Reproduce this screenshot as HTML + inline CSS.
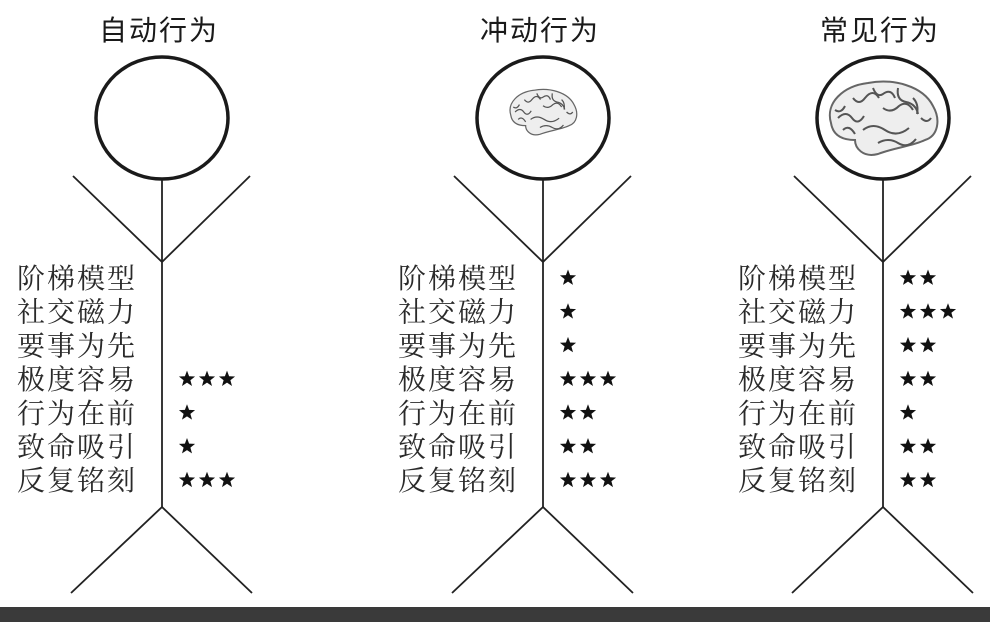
<!DOCTYPE html>
<html><head><meta charset="utf-8">
<style>
html,body{margin:0;padding:0;background:#fff;}
svg{display:block;}
.title{font-family:"Liberation Sans","Noto Sans CJK SC",sans-serif;font-size:28px;fill:#1a1a1a;letter-spacing:2px;}
.lab{font-family:"Liberation Serif","Noto Serif CJK SC","WenQuanYi Zen Hei",serif;font-size:28px;fill:#2a2a2a;letter-spacing:2px;}
</style></head><body>
<svg id="chart" width="990" height="622" viewBox="0 0 990 622" xmlns="http://www.w3.org/2000/svg">
<rect x="0" y="607" width="990" height="15" fill="#3a3a3a"/>
<g id="figs"></g>
</svg>
<script>
const figureTitles = ["自动行为","冲动行为","常见行为"];
const rowLabels = ["阶梯模型","社交磁力","要事为先","极度容易","行为在前","致命吸引","反复铭刻"];
const starsAuto = [0,0,0,3,1,1,3];
const starsImpulse = [1,1,1,3,2,2,3];
const starsCommon = [2,3,2,2,1,2,2];
const brainLevel = [0,1,2];
const series = [starsAuto, starsImpulse, starsCommon];
const centers = [162,543,883];
const NS = "http://www.w3.org/2000/svg";
const g = document.getElementById('figs');
function mk(tag, attrs, parent){const e=document.createElementNS(NS,tag);for(const k in attrs)e.setAttribute(k,attrs[k]);(parent||g).appendChild(e);return e;}
function rowY(i){return 278 + i*33.7;}
function starX(cx,j){return cx + 25 + j*20;}
function starPath(x,y,r){let d="";for(let k=0;k<10;k++){const a=-Math.PI/2+k*Math.PI/5;const rr=k%2?r*0.42:r;d+=(k?"L":"M")+(x+rr*Math.cos(a)).toFixed(2)+","+(y+rr*Math.sin(a)).toFixed(2);}return d+"Z";}
series.forEach((vals,f)=>{
  const cx=centers[f];
  const fg=mk('g',{});
  
  
  const t=mk('text',{x:cx-3,y:40,'text-anchor':'middle',class:'title'},fg);
  t.textContent=figureTitles[f];
  
  
  const head=mk('ellipse',{cx:cx,cy:118,rx:66,ry:61,fill:'none',stroke:'#1a1a1a','stroke-width':3.5},fg);
  
  
  if(brainLevel[f]>0){
    const s=brainLevel[f]===1?0.62:1;
    const bg=mk('g',{transform:`translate(${cx},${brainLevel[f]===1?112:118}) scale(${s})`},fg);
    
    
    mk('path',{d:"M-52,5 C-58,-15 -40,-32 -15,-35 C10,-40 40,-32 50,-12 C58,2 55,18 42,22 C30,28 10,30 -5,36 C-20,40 -28,30 -28,22 C-40,22 -50,18 -52,5Z",fill:'#eeeeee',stroke:'#666','stroke-width':2},bg);
    const sq=["M-45,0 q8,-8 14,0 q6,8 12,-2","M-30,-20 q6,8 12,0 q8,-10 14,0","M-10,-30 q4,10 10,6 q8,-6 12,4","M15,-30 q-2,12 8,14 q10,2 12,12","M-20,12 q10,-8 22,0 q12,8 24,-2","M-5,25 q10,-6 20,0 q10,6 18,-4","M30,-20 q6,6 4,16","M-40,12 q6,-6 12,4","M0,-10 q8,6 16,-2 q8,-6 14,4","M-48,-8 q6,4 10,-4","M38,0 q6,6 10,0"];
    sq.forEach(d=>mk('path',{d:d,fill:'none',stroke:'#555','stroke-width':2},bg));
  }
  const lines=[[cx,180,cx,507],[cx-89,176,cx,262],[cx+88,176,cx,262],[cx,507,cx-91,593],[cx,507,cx+90,593]];
  lines.forEach((l,i)=>{const e=mk('line',{x1:l[0],y1:l[1],x2:l[2],y2:l[3],stroke:'#222','stroke-width':1.8},fg);
    
    });
  rowLabels.forEach((lab,i)=>{
    const y=rowY(i);
    const tx=mk('text',{x:cx-145,y:y+10,class:'lab'},fg);
    tx.textContent=lab;
    
    
    for(let j=0;j<vals[i];j++){
      const st=mk('path',{d:starPath(starX(cx,j),y,8.5),fill:'#111'},fg);
      
      
    }
  });
});
</script>
</body></html>
